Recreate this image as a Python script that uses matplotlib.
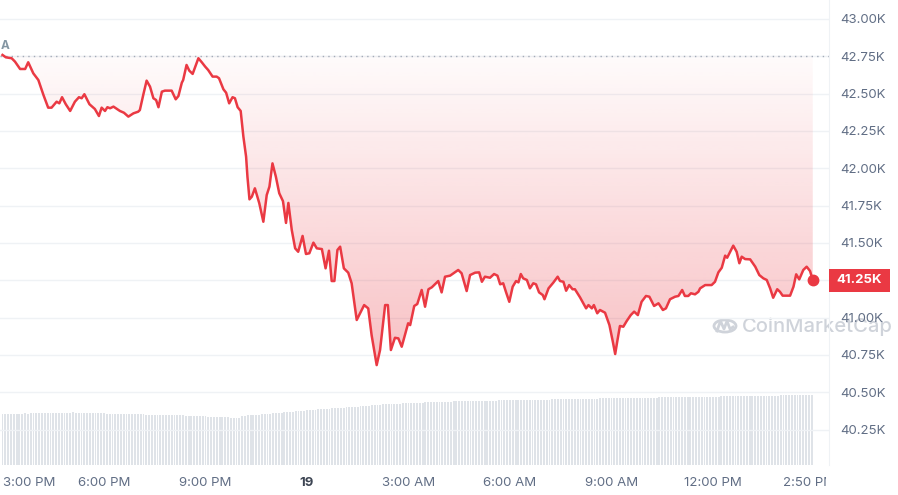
import numpy as np
import matplotlib
matplotlib.use('Agg')
import matplotlib.pyplot as plt
from matplotlib.colors import to_rgb
from matplotlib.lines import Line2D
from matplotlib.patches import Circle, Rectangle
from matplotlib.transforms import Bbox, blended_transform_factory

plt.rcParams['font.family'] = ['Inter', 'DejaVu Sans']

# BTC price, hours after 3:00 PM (Jan 18) -> USD
PRICE_HOURS = [
    0.00, 0.10, 0.27, 0.37, 0.52, 0.67, 0.76, 0.91, 1.06, 1.21, 1.35, 1.45,
    1.60, 1.68, 1.76, 1.87, 2.00, 2.14, 2.26, 2.34, 2.42, 2.57, 2.73, 2.85,
    2.93, 3.03, 3.10, 3.18, 3.28, 3.47, 3.59, 3.72, 3.87, 4.01, 4.06, 4.16,
    4.26, 4.36, 4.46, 4.54, 4.61, 4.71, 4.80, 5.00, 5.12, 5.20, 5.30, 5.34,
    5.44, 5.52, 5.62, 5.79, 5.89, 5.99, 6.08, 6.21, 6.33, 6.40, 6.53, 6.61,
    6.70, 6.80, 6.87, 6.95, 7.04, 7.12, 7.20, 7.24, 7.30, 7.37, 7.46, 7.59,
    7.71, 7.81, 7.89, 7.98, 8.08, 8.18, 8.29, 8.38, 8.45, 8.55, 8.65, 8.74,
    8.87, 8.97, 9.07, 9.19, 9.29, 9.44, 9.55, 9.65, 9.73, 9.81, 9.90, 9.98,
    10.09, 10.22, 10.32, 10.47, 10.57, 10.69, 10.81, 10.91, 11.06, 11.16, 11.31, 11.39,
    11.48, 11.60, 11.70, 11.80, 11.99, 12.05, 12.17, 12.26, 12.39, 12.49, 12.59, 12.69,
    12.88, 12.98, 13.08, 13.23, 13.33, 13.47, 13.57, 13.72, 13.82, 13.97, 14.09, 14.17,
    14.26, 14.41, 14.53, 14.63, 14.71, 14.80, 14.88, 14.98, 15.08, 15.18, 15.25, 15.32,
    15.39, 15.50, 15.59, 15.69, 15.77, 15.86, 15.97, 16.02, 16.14, 16.28, 16.41, 16.48,
    16.58, 16.66, 16.75, 16.85, 16.92, 17.07, 17.25, 17.32, 17.42, 17.48, 17.58, 17.66,
    17.81, 17.94, 18.04, 18.11, 18.17, 18.25, 18.35, 18.45, 18.57, 18.67, 18.78, 18.89,
    19.02, 19.12, 19.26, 19.39, 19.52, 19.61, 19.73, 19.88, 19.98, 20.09, 20.17, 20.27,
    20.35, 20.47, 20.57, 20.62, 20.77, 20.96, 21.06, 21.16, 21.26, 21.36, 21.42, 21.60,
    21.70, 21.78, 21.85, 21.95, 22.10, 22.25, 22.37, 22.49, 22.59, 22.69, 22.78, 22.90,
    22.98, 23.06, 23.28, 23.38, 23.46, 23.55, 23.67, 23.77, 23.87, 23.95,
]
PRICE_USD = [
    42759, 42743, 42737, 42714, 42665, 42665, 42710, 42636, 42591, 42491, 42406, 42406,
    42446, 42435, 42476, 42429, 42384, 42446, 42476, 42469, 42496, 42429, 42397, 42350,
    42406, 42384, 42409, 42402, 42413, 42384, 42372, 42346, 42368, 42379, 42390, 42491,
    42587, 42547, 42469, 42457, 42409, 42513, 42520, 42520, 42462, 42484, 42573, 42591,
    42692, 42654, 42632, 42737, 42710, 42681, 42658, 42614, 42614, 42603, 42529, 42506,
    42435, 42476, 42469, 42409, 42384, 42212, 42078, 41944, 41792, 41810, 41866, 41766,
    41642, 41821, 41877, 42033, 41944, 41833, 41780, 41634, 41768, 41587, 41464, 41441,
    41547, 41426, 41431, 41502, 41464, 41459, 41330, 41448, 41245, 41245, 41453, 41475,
    41330, 41301, 41230, 40984, 41029, 41084, 41062, 40883, 40682, 40783, 41084, 41084,
    40783, 40865, 40861, 40805, 40962, 40950, 41078, 41091, 41185, 41073, 41190, 41203,
    41245, 41169, 41274, 41281, 41297, 41319, 41297, 41178, 41285, 41301, 41303, 41240,
    41274, 41267, 41292, 41281, 41223, 41230, 41173, 41106, 41207, 41245, 41236, 41292,
    41263, 41252, 41196, 41230, 41223, 41169, 41151, 41123, 41196, 41234, 41274, 41245,
    41240, 41180, 41218, 41190, 41190, 41136, 41062, 41084, 41062, 41084, 41029, 41051,
    41033, 40950, 40839, 40756, 40839, 40944, 40939, 40977, 41017, 41040, 41017, 41106,
    41145, 41140, 41078, 41096, 41051, 41062, 41123, 41140, 41145, 41185, 41145, 41145,
    41163, 41156, 41173, 41196, 41218, 41218, 41240, 41303, 41334, 41415, 41401, 41482,
    41441, 41364, 41408, 41392, 41390, 41341, 41285, 41263, 41252, 41196, 41133, 41190,
    41173, 41147, 41147, 41207, 41290, 41256, 41319, 41341, 41312, 41250,
]
OPEN_PRICE = 42755

# 24h volume (billion USD), one bar every 5 minutes, one row per hour
VOLUME_B = [
    20.4, 20.5, 20.4, 20.5, 20.6, 20.5, 20.6, 20.6, 20.7, 20.6, 20.7, 20.7,
    20.8, 20.8, 20.7, 20.8, 20.9, 20.8, 20.9, 20.9, 21.0, 20.9, 21.0, 21.0,
    21.0, 21.1, 21.0, 21.0, 20.9, 20.9, 20.9, 20.8, 20.8, 20.8, 20.7, 20.7,
    20.7, 20.6, 20.6, 20.6, 20.5, 20.5, 20.5, 20.4, 20.4, 20.4, 20.4, 20.3,
    20.3, 20.3, 20.3, 20.2, 20.2, 20.2, 20.2, 20.2, 20.1, 20.1, 20.1, 20.1,
    20.1, 20.0, 20.0, 19.9, 19.9, 19.8, 19.8, 19.7, 19.7, 19.6, 19.6, 19.5,
    19.5, 19.4, 19.4, 19.3, 19.3, 19.2, 19.2, 19.1, 19.1, 19.0, 18.9, 18.8,
    18.9, 19.7, 19.8, 19.9, 19.9, 20.0, 20.1, 20.2, 20.3, 20.4, 20.5, 20.6,
    20.7, 20.8, 20.9, 21.0, 21.1, 21.2, 21.3, 21.4, 21.5, 21.6, 21.7, 21.8,
    21.9, 22.0, 22.1, 22.2, 22.3, 22.3, 22.4, 22.5, 22.6, 22.7, 22.8, 22.9,
    22.9, 23.0, 23.1, 23.2, 23.2, 23.3, 23.4, 23.5, 23.6, 23.7, 23.8, 23.9,
    24.0, 24.1, 24.2, 24.3, 24.4, 24.4, 24.5, 24.5, 24.6, 24.6, 24.7, 24.7,
    24.8, 24.8, 24.9, 24.9, 25.0, 25.0, 25.1, 25.1, 25.2, 25.2, 25.2, 25.3,
    25.3, 25.4, 25.4, 25.4, 25.5, 25.5, 25.5, 25.5, 25.6, 25.6, 25.6, 25.6,
    25.7, 25.7, 25.7, 25.7, 25.8, 25.8, 25.8, 25.8, 25.9, 25.9, 25.9, 25.9,
    26.0, 26.0, 26.0, 26.0, 26.0, 26.1, 26.1, 26.1, 26.1, 26.1, 26.2, 26.2,
    26.2, 26.2, 26.2, 26.3, 26.3, 26.3, 26.3, 26.3, 26.4, 26.4, 26.4, 26.4,
    26.5, 26.5, 26.5, 26.5, 26.6, 26.6, 26.6, 26.6, 26.7, 26.7, 26.7, 26.7,
    26.7, 26.8, 26.8, 26.8, 26.8, 26.8, 26.9, 26.9, 26.9, 26.9, 26.9, 27.0,
    27.0, 27.0, 27.0, 27.0, 27.0, 27.1, 27.1, 27.1, 27.1, 27.1, 27.1, 27.2,
    27.2, 27.2, 27.2, 27.2, 27.2, 27.3, 27.3, 27.3, 27.3, 27.3, 27.3, 27.4,
    27.4, 27.4, 27.4, 27.5, 27.5, 27.5, 27.5, 27.5, 27.6, 27.6, 27.6, 27.6,
    27.6, 27.7, 27.7, 27.7, 27.7, 27.7, 27.8, 27.8, 27.8, 27.8, 27.8, 27.8,
    27.9, 27.9, 27.9, 27.9, 27.9, 27.9, 27.9, 28.0, 28.0, 28.0, 28.0, 28.0,
]

Y_TICKS = [40250, 40500, 40750, 41000, 41250, 41500, 41750, 42000, 42250, 42500, 42750, 43000]
X_TICKS = [0, 3, 6, 9, 12, 15, 18, 21, 23.83]
X_LABELS = ['3:00 PM', '6:00 PM', '9:00 PM', '19', '3:00 AM', '6:00 AM', '9:00 AM', '12:00 PM', '2:50 PM']

RED = '#ea3943'
GREY = '#616e85'
W, H = 898, 495

fig = plt.figure(figsize=(W / 100, H / 100), dpi=100)
ax = fig.add_axes([0, 30 / H, 829 / W, 465 / H])
ax2 = ax.twinx()
ax.set_zorder(2)
ax2.set_zorder(1)
ax.patch.set_visible(False)

# volume bars at the bottom
vol_hours = np.arange(len(VOLUME_B)) * 5 / 60
ax2.bar(vol_hours, VOLUME_B, width=0.055, color='#dfe3e8', linewidth=0)
ax2.set_ylim(0, 186)
ax2.set_axis_off()

# gradient area between price and opening price
fill = ax.fill_between(PRICE_HOURS, PRICE_USD, OPEN_PRICE, facecolor='none', edgecolor='none')
grad = np.zeros((256, 1, 4))
grad[:, 0, :3] = to_rgb(RED)
grad[:, 0, 3] = np.linspace(0.32, 0.02, 256)
img = ax.imshow(grad, extent=[PRICE_HOURS[0], PRICE_HOURS[-1], 40650, OPEN_PRICE],
                origin='lower', aspect='auto', interpolation='bilinear', zorder=2)
img.set_clip_path(fill.get_paths()[0], transform=ax.transData)

ax.axhline(OPEN_PRICE, color='#a3abb8', lw=1, ls=(0, (1, 3)), zorder=3)
ax.plot(PRICE_HOURS, PRICE_USD, color=RED, lw=1.8, solid_joinstyle='round', zorder=4)
ax.plot(PRICE_HOURS[-1], PRICE_USD[-1], 'o', ms=7.5, color=RED, zorder=5)
ax.annotate('A', (PRICE_HOURS[0], PRICE_USD[0]), xytext=(-1.2, 2), textcoords='offset points',
            ha='left', va='bottom', fontsize=8.5, fontweight='bold', color='#8496a3', zorder=5)

ax.set_xlim(-0.074, 24.43)
ax.set_ylim(40013, 43127)

ax.set_yticks(Y_TICKS, [f'{v / 1000:.2f}K' if v != PRICE_USD[-1] else '' for v in Y_TICKS])
ax.yaxis.tick_right()
ax.tick_params(axis='y', length=0, pad=8, labelsize=9.5, labelcolor=GREY)
ax.grid(axis='y', color='#eff2f5', lw=1)
ax.set_axisbelow(True)

# x labels: last one is drawn separately so it can be clipped at the plot edge
ax.set_xticks(X_TICKS, X_LABELS[:-1] + [''])
ax.tick_params(axis='x', length=0, pad=9, labelsize=9.5, labelcolor=GREY)
xlabels = ax.get_xticklabels()
xlabels[0].set_ha('left')
xlabels[3].set_fontweight('bold')
xlabels[3].set_color('#3d4553')
xtrans = blended_transform_factory(ax.transData, ax.transAxes)
last = ax.text(X_TICKS[-1], -12.5 / 465, X_LABELS[-1], transform=xtrans, ha='center', va='top',
               fontsize=9.5, color=GREY)
last.set_clip_on(True)
last.set_clip_path(None)
last.set_clip_box(Bbox.from_extents(0, 0, 826, H))

for side in ['left', 'top', 'bottom']:
    ax.spines[side].set_visible(False)
ax.spines['right'].set_color('#eff2f5')

# current price badge
trans = blended_transform_factory(ax.transAxes, ax.transData)
ax.add_patch(Rectangle((1.0, PRICE_USD[-1] - 77), 61 / 829, 154, transform=trans,
                       facecolor=RED, edgecolor='none', clip_on=False, zorder=6))
ax.text(1.0 + 30.5 / 829, PRICE_USD[-1], f'{PRICE_USD[-1] / 1000:.2f}K', transform=trans,
        ha='center', va='center', color='white', fontsize=9.5, fontweight='bold', zorder=7)

# watermark
wm = '#cfd3da'
fig.text(742 / W, 1 - 327 / H, 'CoinMarketCap', fontsize=14.5, color=wm, va='center',
         ha='left', fontweight='medium', zorder=-1)
fig.add_artist(Circle((725 / W, 1 - 326 / H), 11 / W, transform=fig.transFigure, fill=False,
                      edgecolor=wm, lw=2, zorder=-1))
mx = np.array([717, 720.5, 724, 727, 730, 733]) / W
my = 1 - np.array([331, 321, 329, 321, 329, 327]) / H
fig.add_artist(Line2D(mx, my, color=wm, lw=2, transform=fig.transFigure, zorder=-1))

fig.savefig('out.png', dpi=100, facecolor='white')
